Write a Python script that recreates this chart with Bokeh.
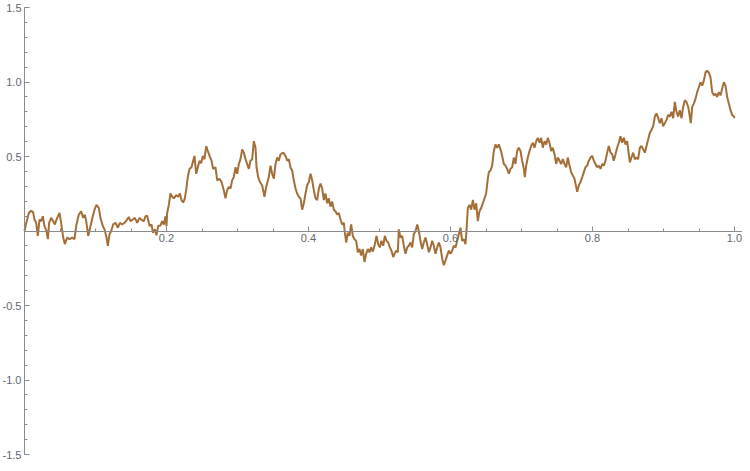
from bokeh.plotting import figure
from bokeh.models import Range1d, FixedTicker
from bokeh.embed import file_html
from bokeh.resources import INLINE

# Path values (t, W(t)), in six stretches
SEG1 = [(0.0, 0.0), (0.0014, 0.033), (0.0038, 0.077), (0.0061, 0.121), (0.0094, 0.136), (0.0122, 0.125),
        (0.0141, 0.077), (0.0164, 0.055), (0.0188, -0.033), (0.0211, 0.077), (0.0235, 0.066), (0.0258, 0.099),
        (0.0282, 0.033), (0.031, 0.0), (0.0329, -0.055), (0.0347, 0.055), (0.0376, 0.088), (0.0404, 0.066),
        (0.0427, 0.044), (0.046, 0.088), (0.0493, 0.121), (0.0516, 0.055), (0.0545, -0.044), (0.0568, -0.088),
        (0.0601, -0.044), (0.0634, -0.055), (0.0671, -0.044), (0.0704, -0.055), (0.0732, 0.044), (0.0765, 0.110),
        (0.0798, 0.132), (0.0826, 0.088), (0.085, 0.110), (0.0873, 0.055), (0.0897, -0.033), (0.093, 0.033),
        (0.0962, 0.099), (0.0986, 0.143), (0.1014, 0.175), (0.1047, 0.154), (0.107, 0.088), (0.1103, 0.033),
        (0.1127, 0.011), (0.1155, -0.044), (0.1174, -0.099), (0.1197, -0.022), (0.1221, 0.0), (0.1249, 0.044),
        (0.1282, 0.055), (0.1315, 0.022), (0.1343, 0.055), (0.1376, 0.044), (0.1408, 0.055), (0.1446, 0.077),
        (0.1469, 0.094), (0.1493, 0.066), (0.1526, 0.077), (0.1554, 0.088), (0.1587, 0.055), (0.162, 0.088),
        (0.1643, 0.077), (0.168, 0.066)]
SEG2 = [(0.1704, 0.099), (0.1728, 0.103), (0.1761, 0.033), (0.1789, 0.044), (0.1808, -0.011), (0.1836, 0.011),
        (0.1859, -0.028), (0.1883, 0.033), (0.1915, 0.037), (0.1939, 0.066), (0.1962, 0.044), (0.1986, 0.099),
        (0.2, 0.033), (0.2009, 0.121), (0.2033, 0.175), (0.2056, 0.252), (0.208, 0.230), (0.2103, 0.219),
        (0.2136, 0.241), (0.2164, 0.230), (0.2188, 0.252), (0.2211, 0.208), (0.2235, 0.191), (0.2258, 0.219),
        (0.2277, 0.274), (0.23, 0.362), (0.2324, 0.417), (0.2352, 0.428), (0.2376, 0.472), (0.2394, 0.504),
        (0.2418, 0.384), (0.2441, 0.428), (0.2465, 0.472), (0.2488, 0.454), (0.2512, 0.504), (0.2535, 0.482),
        (0.2559, 0.570), (0.2582, 0.537), (0.2606, 0.504), (0.2634, 0.472), (0.2657, 0.417), (0.269, 0.428),
        (0.2714, 0.340), (0.2746, 0.351), (0.2775, 0.329), (0.2807, 0.274), (0.2831, 0.219), (0.2854, 0.274),
        (0.2878, 0.296), (0.2901, 0.285), (0.2925, 0.340), (0.2948, 0.362), (0.2972, 0.428), (0.2995, 0.384),
        (0.3019, 0.450), (0.3042, 0.482), (0.3066, 0.548), (0.3089, 0.526), (0.3113, 0.482), (0.3136, 0.450),
        (0.316, 0.417), (0.3183, 0.472), (0.3207, 0.482), (0.323, 0.603), (0.3254, 0.559), (0.3268, 0.428),
        (0.3291, 0.362), (0.3315, 0.329), (0.3347, 0.307), (0.338, 0.230), (0.3404, 0.296), (0.3441, 0.362)]
SEG3 = [(0.3465, 0.439), (0.3488, 0.384), (0.3512, 0.351), (0.3535, 0.450), (0.3559, 0.493), (0.3582, 0.472),
        (0.3606, 0.515), (0.3643, 0.526), (0.3676, 0.504), (0.37, 0.472), (0.3723, 0.482), (0.3746, 0.428),
        (0.377, 0.406), (0.3793, 0.340), (0.3817, 0.285), (0.384, 0.252), (0.3864, 0.230), (0.3887, 0.219),
        (0.3911, 0.143), (0.3934, 0.186), (0.3958, 0.252), (0.3981, 0.307), (0.4005, 0.329), (0.4028, 0.384),
        (0.4052, 0.340), (0.4075, 0.274), (0.4099, 0.219), (0.4122, 0.208), (0.4146, 0.285), (0.4169, 0.318),
        (0.4193, 0.285), (0.4216, 0.208), (0.4239, 0.252), (0.4263, 0.186), (0.4286, 0.219), (0.431, 0.164),
        (0.4333, 0.197), (0.4357, 0.143), (0.438, 0.132), (0.4404, 0.110), (0.4427, 0.121), (0.4451, 0.077),
        (0.4474, 0.044), (0.4498, 0.055), (0.4512, -0.011), (0.4531, -0.077), (0.4554, -0.011), (0.4577, -0.033),
        (0.4601, 0.044), (0.4624, -0.033), (0.4648, -0.055), (0.4671, -0.066), (0.4695, -0.143), (0.4718, -0.121),
        (0.4742, -0.164), (0.4765, -0.121), (0.4789, -0.208), (0.4812, -0.153), (0.4836, -0.121), (0.4859, -0.143),
        (0.4883, -0.110), (0.4906, -0.138), (0.493, -0.099), (0.4958, -0.033), (0.4981, -0.088), (0.5005, -0.110),
        (0.5028, -0.066), (0.5052, -0.099), (0.5075, -0.033), (0.5099, -0.066), (0.5122, -0.077), (0.5146, -0.110),
        (0.5169, -0.132), (0.5193, -0.175), (0.5211, -0.153), (0.5235, -0.132), (0.5258, -0.143), (0.5272, 0.011)]
SEG4 = [(0.5296, -0.044), (0.5319, -0.033), (0.5343, -0.099), (0.5366, -0.153), (0.539, -0.110), (0.5413, -0.099),
        (0.5437, -0.077), (0.546, -0.110), (0.5483, -0.022), (0.5507, 0.0), (0.5531, 0.044), (0.5554, 0.0),
        (0.5577, -0.066), (0.5601, -0.121), (0.5624, -0.077), (0.5648, -0.044), (0.5671, -0.088), (0.5695, -0.143),
        (0.5718, -0.110), (0.5742, -0.066), (0.5765, -0.099), (0.5789, -0.153), (0.5812, -0.110), (0.5836, -0.077),
        (0.5859, -0.110), (0.5883, -0.186), (0.5906, -0.230), (0.593, -0.197), (0.5953, -0.164), (0.5977, -0.132),
        (0.6, -0.153), (0.6023, -0.132), (0.6047, -0.099), (0.607, -0.110), (0.6094, -0.066), (0.6117, -0.022),
        (0.6141, 0.022), (0.6164, -0.066), (0.6188, -0.055), (0.6211, -0.088), (0.6225, 0.0), (0.6244, 0.154),
        (0.6268, 0.175), (0.6291, 0.143), (0.6315, 0.208), (0.6338, 0.143), (0.6362, 0.186), (0.6385, 0.066),
        (0.6408, 0.132), (0.6432, 0.154), (0.6455, 0.186), (0.6479, 0.219), (0.6502, 0.252), (0.6526, 0.351)]
SEG5 = [(0.654, 0.395), (0.6563, 0.406), (0.6587, 0.439), (0.661, 0.537), (0.6634, 0.581), (0.6657, 0.559),
        (0.6681, 0.581), (0.6704, 0.548), (0.6728, 0.504), (0.6751, 0.450), (0.6775, 0.439), (0.6798, 0.417),
        (0.6821, 0.384), (0.6845, 0.417), (0.6869, 0.428), (0.6892, 0.493), (0.6915, 0.450), (0.6939, 0.537),
        (0.6962, 0.559), (0.6986, 0.537), (0.7009, 0.472), (0.7033, 0.417), (0.7047, 0.362), (0.7066, 0.439),
        (0.7089, 0.493), (0.7113, 0.537), (0.7136, 0.570), (0.716, 0.592), (0.7183, 0.559), (0.7207, 0.603),
        (0.723, 0.625), (0.7254, 0.592), (0.7277, 0.625), (0.73, 0.559), (0.7324, 0.603), (0.7348, 0.581),
        (0.7371, 0.625), (0.7394, 0.592), (0.7418, 0.537), (0.7441, 0.559), (0.7465, 0.515), (0.7488, 0.450),
        (0.7512, 0.493), (0.7535, 0.472), (0.7559, 0.450), (0.7582, 0.482), (0.7606, 0.450), (0.7629, 0.428),
        (0.7652, 0.493), (0.7676, 0.439), (0.7699, 0.395), (0.7723, 0.373), (0.7746, 0.351), (0.777, 0.296),
        (0.7784, 0.263), (0.7808, 0.307), (0.7831, 0.329), (0.7855, 0.362), (0.7878, 0.395), (0.7901, 0.428),
        (0.7925, 0.439), (0.7948, 0.472), (0.7972, 0.493), (0.7995, 0.504), (0.8019, 0.472)]
SEG6 = [(0.8042, 0.450), (0.8066, 0.428), (0.8089, 0.439), (0.8113, 0.417), (0.8136, 0.450), (0.816, 0.439),
        (0.8183, 0.472), (0.8207, 0.526), (0.823, 0.570), (0.8254, 0.526), (0.8277, 0.515), (0.83, 0.472),
        (0.8324, 0.515), (0.8347, 0.559), (0.8371, 0.592), (0.8394, 0.636), (0.8418, 0.592), (0.8441, 0.625),
        (0.8465, 0.581), (0.8488, 0.603), (0.8512, 0.515), (0.8526, 0.461), (0.8549, 0.493), (0.8573, 0.526),
        (0.8596, 0.482), (0.862, 0.493), (0.8643, 0.482), (0.8667, 0.559), (0.869, 0.570), (0.8714, 0.548),
        (0.8737, 0.526), (0.8761, 0.570), (0.8784, 0.614), (0.8807, 0.658), (0.8831, 0.680), (0.8854, 0.702),
        (0.8878, 0.768), (0.8901, 0.789), (0.8925, 0.757), (0.8948, 0.724), (0.8972, 0.757), (0.8995, 0.702),
        (0.9019, 0.724), (0.9042, 0.746), (0.9066, 0.779), (0.9089, 0.768), (0.9113, 0.800), (0.9136, 0.757),
        (0.916, 0.866), (0.9183, 0.800), (0.9207, 0.768), (0.923, 0.811), (0.9254, 0.757), (0.9277, 0.833),
        (0.9301, 0.877), (0.9324, 0.866), (0.9348, 0.833), (0.9371, 0.768), (0.9385, 0.724), (0.9404, 0.833),
        (0.9427, 0.855), (0.9451, 0.888), (0.9474, 0.932), (0.9498, 0.965), (0.9521, 0.998), (0.9545, 0.976),
        (0.9568, 1.009), (0.9592, 1.064), (0.9615, 1.075), (0.9638, 1.064), (0.9662, 1.031), (0.9686, 0.932),
        (0.9709, 0.910), (0.9732, 0.921), (0.9756, 0.899), (0.9779, 0.932), (0.9803, 0.910), (0.9826, 0.954),
        (0.985, 0.998), (0.9873, 0.976), (0.9897, 0.899), (0.992, 0.855), (0.9944, 0.811), (0.9967, 0.779),
        (0.9991, 0.768), (1.0, 0.757)]

X_TICKS = [0.2, 0.4, 0.6, 0.8, 1.0]
Y_TICKS = [-1.5, -1.0, -0.5, 0.5, 1.0, 1.5]
X_LABELS = ["0.2", "0.4", "0.6", "0.8", "1.0"]
Y_LABELS = ["-1.5", "-1.0", "-0.5", "0.5", "1.0", "1.5"]

path = SEG1 + SEG2 + SEG3 + SEG4 + SEG5 + SEG6
t = [a for a, b in path]
w = [b for a, b in path]

W, H = 742, 463
x0_px, sx = 24.0, 710.0                  # pixel of t=0, pixels per unit
ytop_px, ybot_px = 7.0, 454.0            # pixels of W=1.5 and W=-1.5
sy = (ybot_px - ytop_px) / 3.0
x_start, x_end = -x0_px / sx, (W - x0_px) / sx
y_end = 1.5 + ytop_px / sy
y_start = -1.5 - (H - ybot_px) / sy

p = figure(width=W, height=H, output_backend="svg", toolbar_location=None,
           x_range=Range1d(x_start, x_end), y_range=Range1d(y_start, y_end),
           min_border=0, background_fill_color="white", border_fill_color="white")
p.outline_line_color = None
p.grid.visible = False

p.line(t, w, line_color="#a36e38", line_width=2)

xminor = [round(0.05 * i, 2) for i in range(1, 21)]
yminor = [round(-1.5 + 0.1 * i, 1) for i in range(0, 31)]
p.xaxis.ticker = FixedTicker(ticks=X_TICKS, minor_ticks=xminor)
p.yaxis.ticker = FixedTicker(ticks=Y_TICKS, minor_ticks=yminor)
p.xaxis.major_label_overrides = {k: v for k, v in zip(X_TICKS, X_LABELS)}
p.yaxis.major_label_overrides = {k: v for k, v in zip(Y_TICKS, Y_LABELS)}

for ax in (p.xaxis[0], p.yaxis[0]):
    ax.fixed_location = 0
    ax.axis_line_color = "#8a8a8a"
    ax.axis_line_width = 1
    ax.major_tick_line_color = "#8a8a8a"
    ax.minor_tick_line_color = "#8a8a8a"
    ax.major_tick_in = 5
    ax.major_tick_out = 0
    ax.minor_tick_in = 3
    ax.minor_tick_out = 0
    ax.major_label_text_font = "Liberation Sans"
    ax.major_label_text_font_size = "11px"
    ax.major_label_text_color = "#5f6670"
    ax.major_label_standoff = 3

p.xaxis.bounds = (0, x_end)
p.yaxis.bounds = (-1.5, 1.5)

open("out.html", "w").write(file_html(p, INLINE))
